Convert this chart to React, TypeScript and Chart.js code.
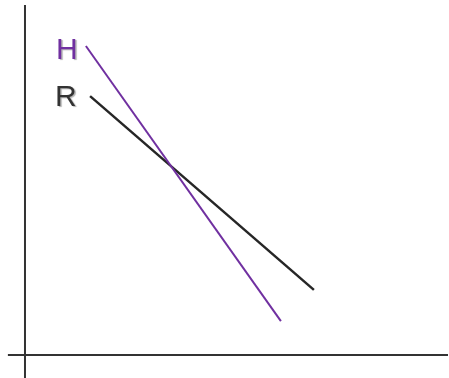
import React, { useEffect, useRef } from "react";
import { Chart, registerables } from "chart.js";

Chart.register(...registerables);

// Data in abstract units (origin at axis crossing)
const seriesNames = ["H", "R"];
const hX = [2.03, 8.53];
const hY = [10.3, 1.13];
const rX = [2.17, 9.63];
const rY = [8.63, 2.17];
const labelX = [1.03, 1.0];
const labelY = [9.87, 8.3];
const colors = ["#7030A0", "#262626"];
const labelColors = ["#7030A0", "#333333"];

const xMin = -0.833;
const xMax = 14.133;
const yMin = -0.767;
const yMax = 11.833;
const axisTopY = 11.67;
const axisLeftX = -0.57;

export default function App() {
  const ref = useRef<HTMLCanvasElement>(null);
  useEffect(() => {
    if (!ref.current) return;
    const axesPlugin = {
      id: "axesCross",
      beforeDatasetsDraw(chart: any) {
        const { ctx, scales } = chart;
        const xs = scales.x;
        const ys = scales.y;
        const x0 = xs.getPixelForValue(0);
        const y0 = ys.getPixelForValue(0);
        ctx.save();
        ctx.strokeStyle = "#333333";
        ctx.lineWidth = 2;
        ctx.beginPath();
        ctx.moveTo(x0, ys.getPixelForValue(axisTopY));
        ctx.lineTo(x0, ys.getPixelForValue(yMin));
        ctx.stroke();
        ctx.beginPath();
        ctx.moveTo(xs.getPixelForValue(axisLeftX), y0);
        ctx.lineTo(xs.getPixelForValue(xMax) - 1, y0);
        ctx.stroke();
        ctx.restore();
      },
      afterDatasetsDraw(chart: any) {
        const { ctx, scales } = chart;
        ctx.save();
        ctx.font = "30px 'Liberation Sans', Arial, sans-serif";
        ctx.textBaseline = "alphabetic";
        ctx.textAlign = "left";
        seriesNames.forEach((n, i) => {
          const px = scales.x.getPixelForValue(labelX[i]);
          const py = scales.y.getPixelForValue(labelY[i]);
          ctx.shadowColor = "rgba(0,0,0,0.3)";
          ctx.shadowOffsetX = 1.5;
          ctx.shadowOffsetY = 1.5;
          ctx.shadowBlur = 1;
          ctx.fillStyle = labelColors[i];
          ctx.fillText(n, px, py);
        });
        ctx.restore();
      },
    };
    const chart = new Chart(ref.current, {
      type: "scatter",
      data: {
        datasets: [
          {
            label: seriesNames[0],
            data: hX.map((x, i) => ({ x, y: hY[i] })),
            showLine: true,
            borderColor: colors[0],
            borderWidth: 2,
            pointRadius: 0,
          },
          {
            label: seriesNames[1],
            data: rX.map((x, i) => ({ x, y: rY[i] })),
            showLine: true,
            borderColor: colors[1],
            borderWidth: 2.5,
            pointRadius: 0,
          },
        ],
      },
      options: {
        animation: false,
        responsive: false,
        layout: { padding: 0 },
        plugins: { legend: { display: false }, tooltip: { enabled: false } },
        scales: {
          x: { type: "linear", min: xMin, max: xMax, display: false },
          y: { type: "linear", min: yMin, max: yMax, display: false },
        },
      },
      plugins: [axesPlugin],
    });
    return () => chart.destroy();
  }, []);
  return (
    <div style={{ position: "fixed", left: 0, top: 0, width: 449, height: 378, background: "#fff" }}>
      <canvas ref={ref} width={449} height={378} style={{ display: "block" }} />
    </div>
  );
}
